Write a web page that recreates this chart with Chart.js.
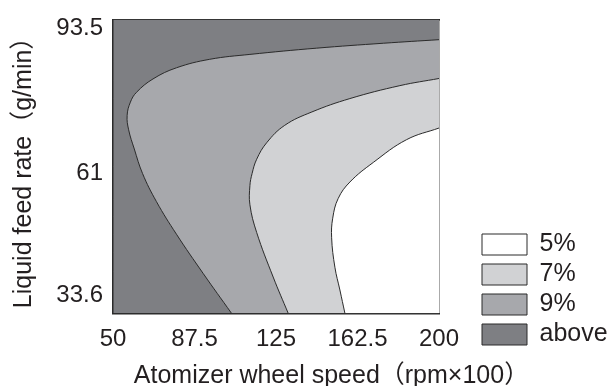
<!DOCTYPE html>
<html>
<head>
<meta charset="utf-8">
<script src="https://cdn.jsdelivr.net/npm/chart.js@4.4.1/dist/chart.umd.min.js"></script>
<style>
  html, body { margin: 0; padding: 0; background: #fff; }
  #wrap { width: 611px; height: 386px; }
</style>
</head>
<body>
<div id="wrap"><canvas id="contour"></canvas></div>
<script>
// axis ticks
const speedTicks = [50, 87.5, 125, 162.5, 200];
const feedTicks = [33.6, 61, 93.5];
const levelLabels = ["5%", "7%", "9%", "above"];

// contour boundaries, speed (rpm x100) as a function of feed rate (g/min)
const feed5 = [29.7, 34.9, 40.0, 46.6, 51.0, 55.4, 59.1, 63.5, 68.6, 71.2];
const speed5 = [156.7, 154.4, 152.1, 150.6, 151.1, 153.6, 159.0, 169.8, 185.1, 200];

const feed7 = [29.7, 37.8, 47.8, 54.0, 58.3, 61.0, 64.2, 67.9, 71.8, 74.8, 77.8, 80.7, 82.3];
const speed7 = [130.6, 123.7, 116.1, 113.0, 113.0, 114.0, 116.1, 120.7, 129.0, 141.5, 159.0, 182.0, 200];

const feed9 = [29.7, 38.6, 47.4, 54.7, 61.0, 66.5, 70.8, 74.0, 77.0, 79.2, 82.2, 84.7, 86.6, 87.7, 89.1, 90.2, 91.0];
const speed9 = [104.5, 91.5, 79.2, 70.0, 63.6, 59.8, 57.2, 56.5, 58.0, 60.8, 68.4, 79.2, 94.5, 113.0, 143.7, 174.4, 200];

const feedAbove = [29.7, 95.5];
const speedAbove = [50, 50];

const FONT = "'Liberation Sans', 'Noto Sans CJK JP', sans-serif";
const INK = "#231f20";
const EDGE = "#2b2b2b";
const fills = ["#ffffff", "#d1d2d4", "#a7a8ac", "#7e7f83"];

function toPoints(feed, speed) {
    return feed.map((f, i) => ({ x: speed[i], y: f }));
}

// each level is filled from its boundary across to the right edge (200)
function region(label, feed, speed, color) {
    return {
        label: label,
        data: toPoints(feed, speed),
        xAxisID: "x",
        yAxisID: "y",
        backgroundColor: color,
        borderColor: EDGE,
        borderWidth: 1,
        pointRadius: 0,
        tension: 0.4,
        fill: { value: 200 }
    };
}

// x title centred under plot + legend; legend stacked down to the tick row
const layoutTweaks = {
    id: "layoutTweaks",
    afterLayout(chart) {
        const t = chart.titleBlock;
        if (t) {
            t.left += 26;
            t.right += 26;
        }
        if (chart.legend && chart.scales.x) {
            chart.legend.bottom = chart.scales.x.bottom - 14;
        }
    }
};

new Chart(document.getElementById("contour"), {
    type: "line",
    data: {
        datasets: [
            region(levelLabels[0], feed5, speed5, fills[0]),
            region(levelLabels[1], feed7, speed7, fills[1]),
            region(levelLabels[2], feed9, speed9, fills[2]),
            region(levelLabels[3], feedAbove, speedAbove, fills[3])
        ]
    },
    options: {
        indexAxis: "y",
        responsive: true,
        maintainAspectRatio: false,
        animation: false,
        layout: { padding: { top: 18, right: 0, bottom: 0, left: 0 } },
        plugins: {
            tooltip: { enabled: false },
            legend: {
                position: "right",
                align: "end",
                maxWidth: 134,
                labels: {
                    boxWidth: 45,
                    boxHeight: 21,
                    padding: 5,
                    color: INK,
                    font: { family: FONT, size: 25 }
                }
            },
            title: {
                display: true,
                position: "bottom",
                text: "Atomizer wheel speed（rpm×100）",
                color: INK,
                font: { family: FONT, size: 25, weight: "normal", lineHeight: 0.8 },
                padding: { top: 0, bottom: 0 }
            }
        },
        scales: {
            x: {
                type: "linear",
                position: "bottom",
                min: 50,
                max: 200,
                afterBuildTicks: (s) => { s.ticks = speedTicks.map(v => ({ value: v })); },
                ticks: {
                    color: INK,
                    padding: 12,
                    maxRotation: 0,
                    font: { family: FONT, size: 24 },
                    callback: (v) => String(v)
                },
                grid: { display: false, drawTicks: false },
                border: { display: true, color: EDGE, width: 1.4 }
            },
            y: {
                type: "linear",
                position: "left",
                min: 29.7,
                max: 95.5,
                afterBuildTicks: (s) => { s.ticks = feedTicks.map(v => ({ value: v })); },
                afterFit: (s) => { s.width = 113; },
                ticks: {
                    color: INK,
                    padding: 10,
                    font: { family: FONT, size: 24, lineHeight: 0.8 },
                    callback: (v) => String(v)
                },
                grid: { display: false, drawTicks: false },
                border: { display: true, color: EDGE, width: 1.4 },
                title: {
                    display: true,
                    text: "Liquid feed rate（g/min）",
                    color: INK,
                    font: { family: FONT, size: 25, lineHeight: 1 },
                    padding: { top: 12, bottom: 0 }
                }
            },
            xTop: {
                type: "linear",
                position: "top",
                ticks: { display: false },
                grid: { display: false, drawTicks: false },
                border: { display: true, color: EDGE, width: 1.4 }
            },
            yRight: {
                type: "linear",
                position: "right",
                afterFit: (s) => { s.width = 38; },
                ticks: { display: false },
                grid: { display: false, drawTicks: false },
                border: { display: true, color: EDGE, width: 1.4 }
            }
        }
    },
    plugins: [layoutTweaks]
});
</script>
</body>
</html>
